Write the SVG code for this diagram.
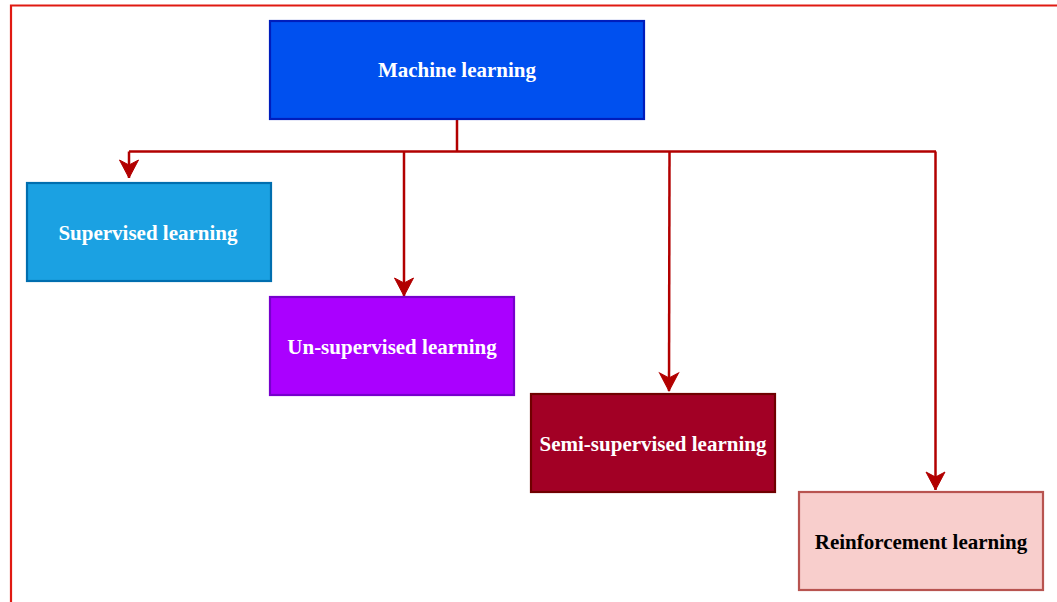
<svg xmlns="http://www.w3.org/2000/svg" width="1057" height="602" viewBox="0 0 1057 602">
  <style>
    .lbl { font-family: "Liberation Serif", "Times New Roman", serif; font-weight: bold; font-size: 21px; text-anchor: middle; dominant-baseline: central; }
    .light { fill: #ffffff; }
    .dark { fill: #000000; }
    .edge { fill: none; stroke: #b20000; stroke-width: 2.5; }
  </style>
  <defs>
    <marker id="arrow" markerUnits="userSpaceOnUse" markerWidth="22" markerHeight="22" viewBox="-2 -11 22 22" refX="18" refY="0" orient="auto">
      <path d="M18,0 L0,-9.5 L5,0 L0,9.5 Z" fill="#b20000" stroke="#b20000" stroke-width="1"/>
    </marker>
  </defs>

  <rect width="1057" height="602" fill="#ffffff"/>
  <!-- outer frame -->
  <path d="M11,602 L11,5.5 L1057,5.5" fill="none" stroke="#e01a12" stroke-width="2.2"/>

  <g id="connectors">
    <path class="edge" d="M457,120 L457,151.5"/>
    <path class="edge" d="M129,151.5 L936,151.5"/>
    <path class="edge" d="M129,151.5 L129,178" marker-end="url(#arrow)"/>
    <path class="edge" d="M404,151.5 L404,296" marker-end="url(#arrow)"/>
    <path class="edge" d="M669.5,151.5 L669,391" marker-end="url(#arrow)"/>
    <path class="edge" d="M935.5,151.5 L935.5,490" marker-end="url(#arrow)"/>
  </g>

  <g id="machine-learning">
    <rect x="270" y="21" width="374" height="98" fill="#0050ef" stroke="#001dbc" stroke-width="2.2"/>
    <text class="lbl light" x="457" y="70">Machine learning</text>
  </g>
  <g id="supervised">
    <rect x="27" y="183" width="244" height="98" fill="#1ba1e2" stroke="#006eaf" stroke-width="2.2"/>
    <text class="lbl light" x="148" y="233">Supervised learning</text>
  </g>
  <g id="unsupervised">
    <rect x="270" y="297" width="244" height="98" fill="#aa00ff" stroke="#7700cc" stroke-width="2.2"/>
    <text class="lbl light" x="392" y="347">Un-supervised learning</text>
  </g>
  <g id="semi-supervised">
    <rect x="531" y="394" width="244" height="98" fill="#a20025" stroke="#6f0000" stroke-width="2.2"/>
    <text class="lbl light" x="653" y="444">Semi-supervised learning</text>
  </g>
  <g id="reinforcement">
    <rect x="799" y="492" width="244" height="98" fill="#f8cecc" stroke="#b85450" stroke-width="2.2"/>
    <text class="lbl dark" x="921" y="542">Reinforcement learning</text>
  </g>
</svg>
